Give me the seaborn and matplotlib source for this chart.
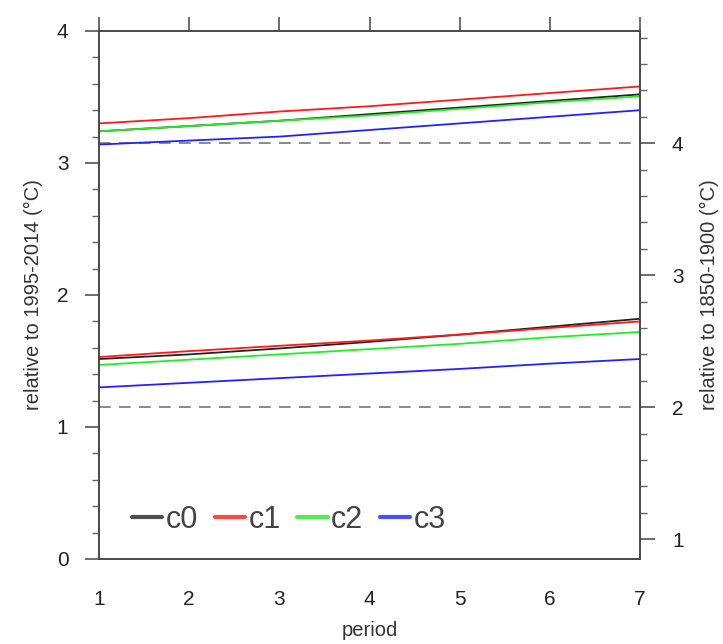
import matplotlib
matplotlib.use("Agg")
import matplotlib.pyplot as plt
from matplotlib.ticker import MultipleLocator
import seaborn as sns
import pandas as pd

# period axis
periods = [1, 2, 3, 4, 5, 6, 7]
models = ["c0", "c1", "c2", "c3"]

# upper group of curves (relative to 1995-2014, degC)
upper_c0 = [3.24, 3.28, 3.32, 3.37, 3.42, 3.47, 3.52]
upper_c1 = [3.30, 3.34, 3.39, 3.43, 3.48, 3.53, 3.58]
upper_c2 = [3.24, 3.28, 3.32, 3.36, 3.41, 3.46, 3.505]
upper_c3 = [3.14, 3.17, 3.20, 3.25, 3.30, 3.35, 3.40]

# lower group of curves
lower_c0 = [1.515, 1.55, 1.595, 1.645, 1.70, 1.76, 1.82]
lower_c1 = [1.53, 1.575, 1.615, 1.655, 1.70, 1.75, 1.80]
lower_c2 = [1.47, 1.51, 1.55, 1.59, 1.63, 1.68, 1.72]
lower_c3 = [1.30, 1.335, 1.37, 1.405, 1.44, 1.48, 1.515]

# dashed reference levels (left-axis units) and offset between the two baselines
ref_levels = [3.15, 1.15]
baseline_offset = 0.85

colors = {"c0": "#222222", "c1": "#ff1a1a", "c2": "#22ee22", "c3": "#2222ff"}

rows = []
for grp, series in [("upper", [upper_c0, upper_c1, upper_c2, upper_c3]),
                    ("lower", [lower_c0, lower_c1, lower_c2, lower_c3])]:
    for name, vals in zip(models, series):
        for p, v in zip(periods, vals):
            rows.append({"period": p, "value": v, "model": name, "group": grp + name})
df = pd.DataFrame(rows)

sns.set_style("white")
plt.rcParams["font.family"] = ["Liberation Sans", "DejaVu Sans"]

fig = plt.figure(figsize=(7.23, 6.44), dpi=100)
ax = fig.add_axes([99 / 723, 85 / 644, 541 / 723, 528 / 644])

sns.lineplot(data=df, x="period", y="value", hue="model", units="group",
             estimator=None, palette=colors, hue_order=models, lw=1.3, ax=ax)

for lvl in ref_levels:
    ax.axhline(lvl, color="#777777", lw=1.2, ls=(0, (7, 5)), zorder=1)

ax.set_xlim(1, 7)
ax.set_ylim(0, 4)
ax.yaxis.set_major_locator(MultipleLocator(1))
ax.yaxis.set_minor_locator(MultipleLocator(0.2))
ax.xaxis.set_major_locator(MultipleLocator(1))

for s in ax.spines.values():
    s.set_color("#444444")
    s.set_linewidth(1.1)

ax.tick_params(axis="both", which="major", direction="out", length=10, width=1.1,
               color="#444444", labelsize=15, labelcolor="#222222", pad=12)
ax.tick_params(axis="y", which="minor", direction="out", length=5, width=1.0,
               color="#666666", left=True)
ax.tick_params(axis="x", which="major", top=True)

ax.set_xlabel("period", fontsize=14.5, color="#333333", labelpad=9)
ax.set_ylabel("relative to 1995-2014 (\u00b0C)", fontsize=14.5, color="#333333", labelpad=10)

ax2 = ax.twinx()
ax2.set_ylim(0 + baseline_offset, 4 + baseline_offset)
ax2.yaxis.set_major_locator(MultipleLocator(1))
ax2.yaxis.set_minor_locator(MultipleLocator(0.2))
ax2.tick_params(axis="y", which="major", direction="out", length=11, width=1.1,
                color="#444444", labelsize=15, labelcolor="#222222", pad=12)
ax2.tick_params(axis="y", which="minor", direction="out", length=5, width=1.0,
                color="#666666", right=True)
for s in ax2.spines.values():
    s.set_color("#444444")
    s.set_linewidth(1.1)
ax2.set_ylabel("relative to 1850-1900 (\u00b0C)", fontsize=14.5, color="#333333", labelpad=12)

leg = ax.legend(handles=ax.get_legend_handles_labels()[0], labels=models,
                loc="center left", bbox_to_anchor=(0.01, 0.074), ncol=4, frameon=False,
                fontsize=22, handlelength=1.0, handletextpad=0.1, columnspacing=0.55,
                labelcolor="#444444")
for h in leg.get_lines():
    h.set_linewidth(3)
    h.set_alpha(0.8)

fig.savefig("out.png", dpi=100)
